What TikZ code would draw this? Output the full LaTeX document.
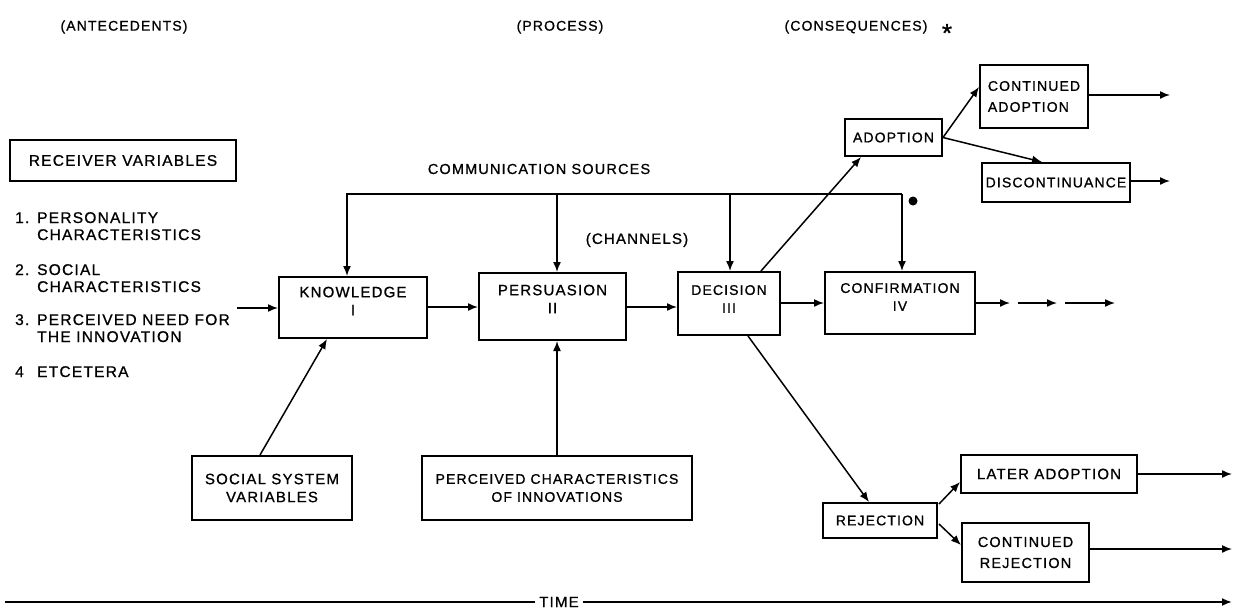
\documentclass[tikz,border=0pt]{standalone}
\usepackage{fontspec}
\setmainfont{Liberation Sans}[LetterSpace=8,FakeBold=0.9]
\usetikzlibrary{arrows.meta,calc}
\begin{document}
\begin{tikzpicture}[x=1pt,y=-1pt,
  box/.style={draw,line width=2pt,inner sep=0pt,align=center,font=\fontsize{15}{18}\selectfont},
  lbl/.style={inner sep=0pt,align=center,font=\fontsize{15}{18}\selectfont},
  item/.style={inner sep=0pt,anchor=base west,font=\fontsize{15.5}{18}\selectfont},
  hdr/.style={inner sep=0pt,font=\fontsize{14}{16}\selectfont},
  arr/.style={line width=1.5pt,-{Latex[length=10pt,width=8pt]}},
  ln/.style={line width=1.5pt}]
\useasboundingbox (0,0) rectangle (1235,616);

% headers
\node[hdr] (ante) at (124,27) {(ANTECEDENTS)};
\node[hdr] (proc) at (560,27) {(PROCESS)};
\node[hdr] (cons) at (856,27) {(CONSEQUENCES)};
\node[inner sep=0pt,font=\fontsize{26}{26}\selectfont] (star) at (947,33) {*};

% antecedents
\node[box,minimum width=226pt,minimum height=41pt,font=\fontsize{15.5}{18}\selectfont] (recv) at (123,160.5) {RECEIVER VARIABLES};
\node[item] (n1) at (15,223) {1.};
\node[item] (t1a) at (37,223) {PERSONALITY};
\node[item] (t1b) at (37,240) {CHARACTERISTICS};
\node[item] (n2) at (15,275) {2.};
\node[item] (t2a) at (37,275) {SOCIAL};
\node[item] (t2b) at (37,292) {CHARACTERISTICS};
\node[item] (n3) at (15,325) {3.};
\node[item] (t3a) at (37,325) {PERCEIVED NEED FOR};
\node[item] (t3b) at (37,342) {THE INNOVATION};
\node[item] (n4) at (15,377) {4};
\node[item] (t4a) at (37,377) {ETCETERA};

% process boxes
\node[box,minimum width=148pt,minimum height=61pt] (know) at (353,307.5) {};
\node[lbl] (knowt) at (353,301) {KNOWLEDGE\\I};
\node[box,minimum width=147pt,minimum height=67pt] (pers) at (552.5,306.5) {};
\node[lbl] (perst) at (552.5,299) {PERSUASION\\II};
\node[box,minimum width=102pt,minimum height=63pt] (dec) at (729,303.5) {};
\node[lbl,font=\fontsize{14}{18}\selectfont] (dect) at (729,299) {DECISION\\III};
\node[box,minimum width=150pt,minimum height=62pt] (conf) at (900,303) {};
\node[lbl,font=\fontsize{14}{18}\selectfont] (conft) at (900,297) {CONFIRMATION\\IV};

\node[box,minimum width=160pt,minimum height=64pt] (social) at (272,488) {SOCIAL SYSTEM\\VARIABLES};
\node[box,minimum width=270pt,minimum height=64pt,font=\fontsize{14}{18}\selectfont] (perc) at (557,488) {PERCEIVED CHARACTERISTICS\\OF INNOVATIONS};

\node[lbl,font=\fontsize{14.5}{18}\selectfont] (cst) at (539,169) {COMMUNICATION SOURCES};
\node[lbl] (chan) at (637,240) {(CHANNELS)};

% consequences
\node[box,minimum width=97pt,minimum height=37pt,font=\fontsize{14}{18}\selectfont] (adopt) at (893.5,137.5) {ADOPTION};
\node[box,minimum width=108pt,minimum height=63pt,align=left,font=\fontsize{14}{21}\selectfont] (cadopt) at (1034,96.5) {CONTINUED\\ADOPTION};
\node[box,minimum width=148pt,minimum height=39pt,font=\fontsize{14}{18}\selectfont] (discont) at (1056,182.5) {DISCONTINUANCE};
\node[box,minimum width=114pt,minimum height=35pt,font=\fontsize{14}{18}\selectfont] (rej) at (880,520.5) {REJECTION};
\node[box,minimum width=176pt,minimum height=38pt] (later) at (1049,474) {LATER ADOPTION};
\node[box,minimum width=127pt,minimum height=59pt,font=\fontsize{14.5}{21}\selectfont] (crej) at (1025.5,552.5) {CONTINUED\\REJECTION};

% receiver input
\coordinate (rvin) at (237,308);
\draw[arr] (rvin) -- (rvin -| know.west);

% main flow
\draw[arr] (know.east |- 0,307) -- (pers.west |- 0,307);
\draw[arr] (pers.east |- 0,307) -- (dec.west |- 0,307);
\draw[arr] (dec.east |- 0,303) -- (conf.west |- 0,303);

% communication sources
\coordinate (cs1) at (347,194);
\coordinate (cs2) at (557,194);
\coordinate (cs3) at (730,194);
\coordinate (cs4) at (902,194);
\draw[arr] (cs4) -- (cs1) -- (cs1 |- know.north);
\draw[arr] (cs2) -- (cs2 |- pers.north);
\draw[arr] (cs3) -- (cs3 |- dec.north);
\draw[arr] (cs4) -- (cs4 |- conf.north);
\fill (913,201) circle (4.5pt);

% confirmation outputs
\coordinate (c1) at (1010,303);
\coordinate (c2s) at (1018,303);
\coordinate (c2e) at (1057,303);
\coordinate (c3s) at (1065,303);
\coordinate (c3e) at (1115,303);
\draw[arr] (conf.east |- c1) -- (c1);
\draw[arr] (c2s) -- (c2e);
\draw[arr] (c3s) -- (c3e);

% adoption branch
\draw[arr] ($(dec.north east)+(-20,0)$) -- ($(adopt.south west)+(17,0)$);
\draw[arr] (adopt.east) -- ($(cadopt.west)+(0,-9.5)$);
\draw[arr] (adopt.east) -- ($(discont.north west)+(61,0)$);
\coordinate (caout) at (1170,95);
\coordinate (dcout) at (1170,181);
\draw[arr] (cadopt.east |- caout) -- (caout);
\draw[arr] (discont.east |- dcout) -- (dcout);

% rejection branch
\draw[arr] ($(dec.south east)+(-33,0)$) -- ($(rej.north west)+(47,0)$);
\draw[arr] ($(rej.north east)+(1,2)$) -- ($(later.west)+(0,8)$);
\draw[arr] ($(rej.south east)+(1,-15)$) -- ($(crej.west)+(0,-7.5)$);
\coordinate (laout) at (1232,474);
\coordinate (crout) at (1232,549);
\draw[arr] (later.east) -- (laout);
\draw[arr] (crej.east |- crout) -- (crout);

% influences
\draw[arr] ($(social.north)+(-12,0)$) -- ($(know.south)+(-26,0)$);
\draw[arr] (perc.north) -- (perc.north |- pers.south);

% time
\node[lbl,inner xsep=4pt] (time) at (559,602) {TIME};
\coordinate (t0) at (5,602);
\coordinate (t1) at (1232,602);
\draw[line width=1.8pt] (t0) -- (time.west);
\draw[arr,line width=1.8pt] (time.east) -- (t1);
\end{tikzpicture}
\end{document}
